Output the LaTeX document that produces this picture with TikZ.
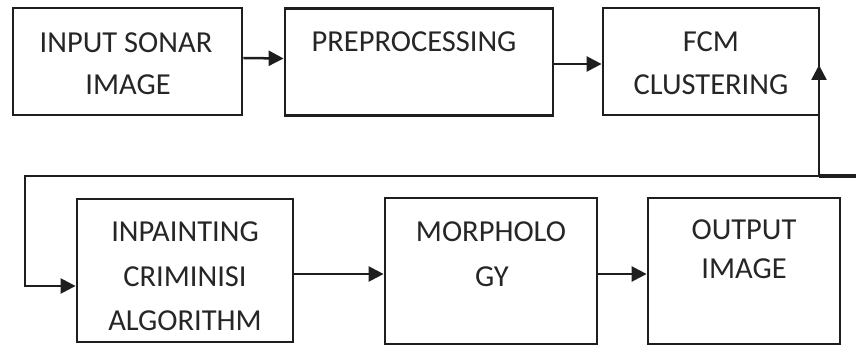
\documentclass[tikz,border=0pt]{standalone}
\usepackage{fontspec}
\setmainfont{Carlito}
\usetikzlibrary{arrows.meta}
\definecolor{ink}{HTML}{1E1E1E}
\definecolor{txtc}{HTML}{262626}
\begin{document}
\begin{tikzpicture}[x=1pt,y=-1pt,
  box/.style={draw=ink, line width=2.8pt, rectangle, inner sep=0pt},
  txt/.style={anchor=base, inner sep=0pt, text=txtc, font=\fontsize{30.5}{36}\selectfont},
  conn/.style={draw=ink, line width=2.5pt},
  arr/.style={conn, -{Triangle[length=15pt,width=15pt]}}]
\useasboundingbox (0,0) rectangle (856,347);
% top row
\node[box, minimum width=229pt, minimum height=107pt] (b1) at (127.5,61.5) {};
\node[box, minimum width=268pt, minimum height=107pt] (b2) at (419,62) {};
\node[box, minimum width=216pt, minimum height=107pt] (b3) at (711,61.5) {};
% bottom row
\node[box, minimum width=216pt, minimum height=143pt] (b4) at (185,270.5) {};
\node[box, minimum width=212pt, minimum height=146pt] (b5) at (491,271) {};
\node[box, minimum width=192pt, minimum height=146pt] (b6) at (744,271) {};
% texts
\node[txt] (t1a) at (126,53) {INPUT SONAR};
\node[txt] (t1b) at (128,95) {IMAGE};
\node[txt] (t2a) at (414,52) {PREPROCESSING};
\node[txt] (t3a) at (711,52) {FCM};
\node[txt] (t3b) at (711,95) {CLUSTERING};
\node[txt] (t4a) at (185,242) {INPAINTING};
\node[txt] (t4b) at (185,287) {CRIMINISI};
\node[txt] (t4c) at (185,330) {ALGORITHM};
\node[txt] (t5a) at (491,242) {MORPHOLO};
\node[txt] (t5b) at (492,287) {GY};
\node[txt] (t6a) at (744,240) {OUTPUT};
\node[txt] (t6b) at (744,278) {IMAGE};
% connectors
\draw[arr] ([yshift=3.5pt]b1.east) -- ([yshift=3.5pt]b2.west);
\draw[arr] ([yshift=-2pt]b2.east) -- ([yshift=-2.5pt]b3.west);
\draw[arr] ([yshift=-3.5pt]b4.east) -- ([yshift=-3pt]b5.west);
\draw[arr] ([yshift=-3pt]b5.east) -- ([yshift=-3pt]b6.west);
% feedback loop
\coordinate (loopR) at (819,176);
\coordinate (loopE) at (856,176);
\coordinate (loopL) at (25,176);
\coordinate (fcmIn) at (819,65);
\draw[conn, line width=3.2pt] (loopE) -- (loopR);
\draw[arr] (loopR) -- (fcmIn);
\draw[arr] (loopR) -- (loopL) |- ([yshift=-15.5pt]b4.west);
\end{tikzpicture}
\end{document}
